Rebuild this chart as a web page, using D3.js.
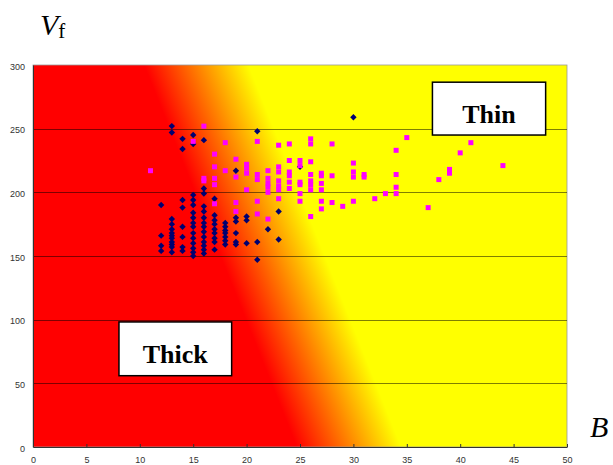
<!DOCTYPE html>
<html>
<head>
<meta charset="utf-8">
<script src="https://cdn.jsdelivr.net/npm/d3@7/dist/d3.min.js"></script>
<style>
  body { margin: 0; background: #fff; }
  svg { display: block; }
</style>
</head>
<body>
<div id="chart"></div>
<script>
// tick labels
const xTicks = [0, 5, 10, 15, 20, 25, 30, 35, 40, 45, 50];
const yTicks = [0, 50, 100, 150, 200, 250, 300];

// dark diamonds  [B, Vf]
const thickPoints = [
  [12, 190], [12, 166], [12, 158], [12, 154],
  [13, 252], [13, 247], [13, 179], [13, 175], [13, 171], [13, 168], [13, 166], [13, 164], [13, 161], [13, 159], [13, 157], [13, 153],
  [14, 242], [14, 234], [14, 194], [14, 188], [14, 173], [14, 165], [14, 157], [14, 154],
  [15, 245], [15, 238], [15, 198], [15, 194], [15, 190], [15, 184], [15, 180], [15, 176], [15, 173], [15, 168], [15, 164], [15, 160], [15, 156], [15, 153], [15, 150],
  [16, 241], [16, 203], [16, 199], [16, 189], [16, 185], [16, 180], [16, 176], [16, 173], [16, 169], [16, 165], [16, 161], [16, 158], [16, 155], [16, 152],
  [17, 195], [17, 182], [17, 178], [17, 175], [17, 171], [17, 168], [17, 164], [17, 161], [17, 155],
  [18, 176], [18, 173], [18, 170], [18, 168], [18, 165], [18, 162], [18, 159],
  [19, 217], [19, 180], [19, 177], [19, 168], [19, 161], [19, 159],
  [20, 181], [20, 178], [20, 160],
  [21, 248], [21, 161], [21, 147],
  [22, 171],
  [23, 185], [23, 163],
  [25, 220],
  [30, 259]
];

// magenta squares  [B, Vf]
const thinPoints = [
  [11, 217],
  [15, 240],
  [16, 252], [16, 211], [16, 209],
  [17, 230], [17, 220], [17, 211], [17, 206], [17, 191],
  [18, 239], [18, 217],
  [19, 226], [19, 212], [19, 192], [19, 185],
  [20, 222], [20, 219], [20, 215], [20, 202],
  [21, 240], [21, 214], [21, 210], [21, 193], [21, 183],
  [22, 217], [22, 211], [22, 207], [22, 204], [22, 200], [22, 179],
  [23, 237], [23, 220], [23, 216], [23, 209], [23, 205], [23, 202], [23, 195],
  [24, 238], [24, 225], [24, 216], [24, 213], [24, 208], [24, 203],
  [25, 225], [25, 221], [25, 208], [25, 206], [25, 199], [25, 193],
  [26, 242], [26, 238], [26, 224], [26, 214], [26, 209], [26, 206], [26, 202], [26, 181],
  [27, 215], [27, 213], [27, 207], [27, 202], [27, 193], [27, 187],
  [28, 238], [28, 213], [28, 192],
  [29, 189],
  [30, 223], [30, 216], [30, 212], [30, 193],
  [31, 214], [31, 212],
  [32, 195],
  [33, 199],
  [34, 233], [34, 214], [34, 204], [34, 199],
  [35, 243],
  [37, 188],
  [38, 210],
  [39, 218], [39, 215],
  [40, 231],
  [41, 239],
  [44, 221]
];

// set the dimensions and margins of the graph
const margin = {top: 65, right: 46, bottom: 18, left: 33},
  width = 613 - margin.left - margin.right,
  height = 465 - margin.top - margin.bottom;

const svg = d3.select("#chart")
  .append("svg")
    .attr("width", 613)
    .attr("height", 465);

const g = svg.append("g")
  .attr("transform", `translate(${margin.left},${margin.top})`);

const x = d3.scaleLinear().domain([0, 50]).range([0, width]);
const y = d3.scaleLinear().domain([0, 300]).range([height, 0]);

// background: red -> yellow band, tilted
const tilt = 0.4;  // horizontal shift per px going up
const x1 = x(24.7), y1 = y(0);
const dx = x(34.5) - x(24.7);
const nLen = Math.sqrt(1 + tilt * tilt);
const nx = 1 / nLen, ny = -tilt / nLen;
const grad = svg.append("defs").append("linearGradient")
  .attr("id", "bg")
  .attr("gradientUnits", "userSpaceOnUse")
  .attr("x1", x1).attr("y1", y1)
  .attr("x2", x1 + dx * nx * nx).attr("y2", y1 + dx * nx * ny);
grad.append("stop").attr("offset", 0).attr("stop-color", "#ff0000");
grad.append("stop").attr("offset", 1).attr("stop-color", "#ffff00");

g.append("rect")
  .attr("width", width)
  .attr("height", height)
  .attr("fill", "url(#bg)")
  .attr("stroke", "#9a9a9a")
  .attr("stroke-width", 0.8);

// gridlines
g.append("g")
  .selectAll("line")
  .data(yTicks.filter(d => d > 0 && d < 300))
  .join("line")
    .attr("x1", 0)
    .attr("x2", width)
    .attr("y1", d => Math.round(y(d)) + 0.5)
    .attr("y2", d => Math.round(y(d)) + 0.5)
    .attr("stroke", "rgba(0,0,0,0.5)")
    .attr("stroke-width", 1);

// axes
const xAxis = g.append("g")
  .attr("transform", `translate(0,${height})`)
  .call(d3.axisBottom(x).tickValues(xTicks).tickSizeInner(-3).tickSizeOuter(0).tickPadding(10));
const yAxis = g.append("g")
  .call(d3.axisLeft(y).tickValues(yTicks).tickSize(0).tickPadding(8));

[xAxis, yAxis].forEach(a => {
  a.select(".domain").attr("stroke", "#333");
  a.selectAll(".tick line").attr("stroke", "#333");
  a.selectAll("text")
    .style("font-family", "Arial, 'Liberation Sans', sans-serif")
    .style("font-size", "9px")
    .attr("fill", "#333");
});
yAxis.selectAll("text").attr("dy", "0.45em");

// points
g.append("g")
  .selectAll("path")
  .data(thickPoints)
  .join("path")
    .attr("transform", d => `translate(${x(d[0])},${y(d[1])})`)
    .attr("d", "M0,-3.2L3.2,0L0,3.2L-3.2,0Z")
    .attr("fill", "#000070");

g.append("g")
  .selectAll("rect")
  .data(thinPoints)
  .join("rect")
    .attr("x", d => x(d[0]) - 2.5)
    .attr("y", d => y(d[1]) - 2.5)
    .attr("width", 5)
    .attr("height", 5)
    .attr("fill", "#ff00ff");

// labelled boxes
const boxes = [
  {label: "Thin", b0: 37.4, b1: 48.0, v0: 286.5, v1: 245},
  {label: "Thick", b0: 8.05, b1: 18.6, v0: 98.2, v1: 56}
];
boxes.forEach(bx => {
  g.append("rect")
    .attr("x", x(bx.b0))
    .attr("y", y(bx.v0))
    .attr("width", x(bx.b1) - x(bx.b0))
    .attr("height", y(bx.v1) - y(bx.v0))
    .attr("fill", "#fff")
    .attr("stroke", "#000")
    .attr("stroke-width", 1.5);
  g.append("text")
    .attr("x", (x(bx.b0) + x(bx.b1)) / 2)
    .attr("y", (y(bx.v0) + y(bx.v1)) / 2 + 14)
    .attr("text-anchor", "middle")
    .style("font-family", "'Liberation Serif', 'Times New Roman', serif")
    .style("font-weight", "bold")
    .style("font-size", "26px")
    .text(bx.label);
});

// axis titles
const vLabel = svg.append("text")
  .attr("x", 40)
  .attr("y", 35)
  .style("font-family", "'Liberation Serif', 'Times New Roman', serif")
  .style("font-size", "30px");
vLabel.append("tspan").style("font-style", "italic").text("V");
vLabel.append("tspan").attr("dy", 3).style("font-size", "21px").text("f");

svg.append("text")
  .attr("x", 590)
  .attr("y", 437)
  .style("font-family", "'Liberation Serif', 'Times New Roman', serif")
  .style("font-style", "italic")
  .style("font-size", "30px")
  .text("B");
</script>
</body>
</html>
